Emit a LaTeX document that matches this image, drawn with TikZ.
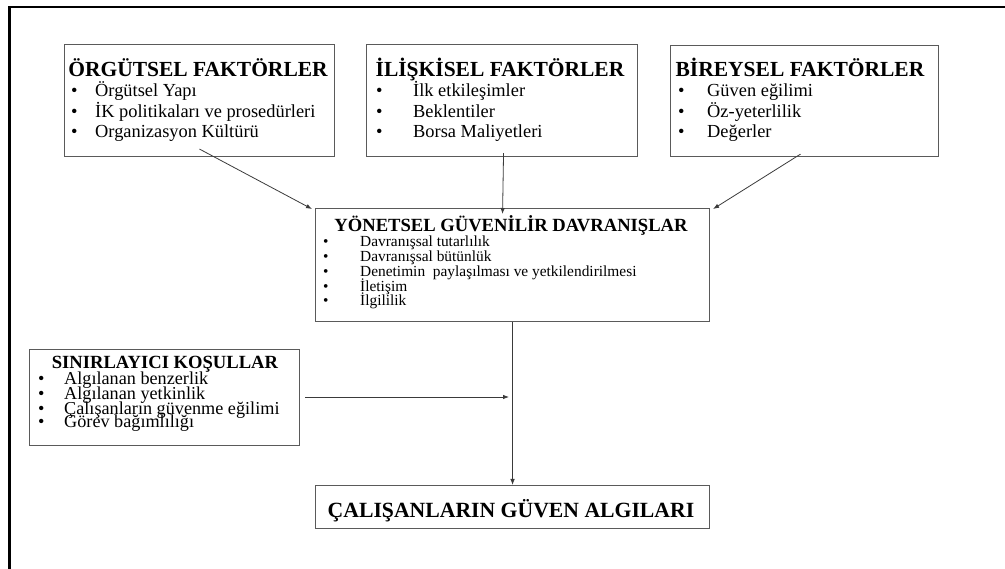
\documentclass[tikz,border=0pt]{standalone}
\usepackage{fontspec}
\setmainfont{Liberation Serif}
\usetikzlibrary{arrows.meta}
\definecolor{boxgray}{HTML}{5A5A5A}
\definecolor{arrgray}{HTML}{3A3A3A}
\begin{document}
\begin{tikzpicture}[x=1pt,y=-1pt,
  box/.style={draw=boxgray, line width=1.1pt, inner sep=0pt, anchor=north west},
  ttlA/.style={font=\bfseries\fontsize{21.5}{21.5}\selectfont, inner sep=0pt, anchor=base},
  ttlB/.style={font=\bfseries\fontsize{18.6}{18.6}\selectfont, inner sep=0pt, anchor=base},
  ttlC/.style={font=\bfseries\fontsize{21.7}{21.7}\selectfont, inner sep=0pt, anchor=base},
  itmA/.style={font=\fontsize{18.4}{18.4}\selectfont, inner sep=0pt, anchor=base west},
  itmB/.style={font=\fontsize{15.4}{15.4}\selectfont, inner sep=0pt, anchor=base west},
  itmC/.style={font=\fontsize{18.2}{18.2}\selectfont, inner sep=0pt, anchor=base west},
  conn/.style={draw=arrgray, line width=0.8pt, -{Latex[length=6pt,width=4.5pt]}}
]
\useasboundingbox (0,0) rectangle (1005,569);
% outer frame (only top and left edges visible)
\draw[line width=2.4pt, black] (9.5,575) -- (9.5,7) -- (1010,7);

% top boxes
\node[box, minimum width=270pt, minimum height=112pt] (b1) at (64,44) {};
\node[box, minimum width=271pt, minimum height=112pt] (b2) at (366,44) {};
\node[box, minimum width=268pt, minimum height=111pt] (b3) at (670,45) {};

\node[ttlA] (b1t) at (198,77) {ÖRGÜTSEL FAKTÖRLER};
\node[itmA] (b1b1) at (71,97) {•};
\node[itmA] (b1i1) at (95,97) {Örgütsel Yapı};
\node[itmA] (b1b2) at (71,117.5) {•};
\node[itmA] (b1i2) at (95,117.5) {İK politikaları ve prosedürleri};
\node[itmA] (b1b3) at (71,138) {•};
\node[itmA] (b1i3) at (95,138) {Organizasyon Kültürü};

\node[ttlA] (b2t) at (500,77) {İLİŞKİSEL FAKTÖRLER};
\node[itmA] (b2b1) at (376,97) {•};
\node[itmA] (b2i1) at (413,97) {İlk etkileşimler};
\node[itmA] (b2b2) at (376,117.5) {•};
\node[itmA] (b2i2) at (413,117.5) {Beklentiler};
\node[itmA] (b2b3) at (376,138) {•};
\node[itmA] (b2i3) at (413,138) {Borsa Maliyetleri};

\node[ttlA] (b3t) at (800,77) {BİREYSEL FAKTÖRLER};
\node[itmA] (b3b1) at (678,97) {•};
\node[itmA] (b3i1) at (707,97) {Güven eğilimi};
\node[itmA] (b3b2) at (678,117.5) {•};
\node[itmA] (b3i2) at (707,117.5) {Öz-yeterlilik};
\node[itmA] (b3b3) at (678,138) {•};
\node[itmA] (b3i3) at (707,138) {Değerler};

% middle box
\node[box, minimum width=394pt, minimum height=113pt] (yon) at (315,208) {};
\node[ttlB] (yont) at (511,232) {YÖNETSEL GÜVENİLİR DAVRANIŞLAR};
\node[itmB] (yb1) at (323,247) {•};
\node[itmB] (yi1) at (360,247) {Davranışsal tutarlılık};
\node[itmB] (yb2) at (323,262) {•};
\node[itmB] (yi2) at (360,262) {Davranışsal bütünlük};
\node[itmB] (yb3) at (323,277) {•};
\node[itmB] (yi3) at (360,277) {Denetimin\ \ paylaşılması ve yetkilendirilmesi};
\node[itmB] (yb4) at (323,292) {•};
\node[itmB] (yi4) at (360,292) {İletişim};
\node[itmB] (yb5) at (323,306) {•};
\node[itmB] (yi5) at (360,306) {İlgililik};

% left box
\node[box, minimum width=270pt, minimum height=96pt] (sin) at (29,349) {};
\node[ttlB] (sint) at (165,369) {SINIRLAYICI KOŞULLAR};
\node[itmC] (sb1) at (38,385) {•};
\node[itmC] (si1) at (64,385) {Algılanan benzerlik};
\node[itmC] (sb2) at (38,400) {•};
\node[itmC] (si2) at (64,400) {Algılanan yetkinlik};
\node[itmC] (sb3) at (38,414.5) {•};
\node[itmC] (si3) at (64,414.5) {Çalışanların güvenme eğilimi};
\node[itmC] (sb4) at (38,428) {•};
\node[itmC] (si4) at (64,428) {Görev bağımlılığı};

% bottom box
\node[box, minimum width=394pt, minimum height=43pt] (cal) at (315,485) {};
\node[ttlC] (calt) at (511,517) {ÇALIŞANLARIN GÜVEN ALGILARI};

% connectors
\draw[conn] ([yshift=8pt]b1.south) -- ([shift={(-3pt,-1pt)}]yon.north west);
\draw[conn] ([shift={(1.5pt,4pt)}]b2.south) -- ([shift={(-10pt,-6pt)}]yon.north);
\draw[conn] ([shift={(-4pt,3pt)}]b3.south) -- ([shift={(3pt,-1pt)}]yon.north east);
\draw[conn] (yon.south) -- (cal.north);
\coordinate (mj) at (512,397);
\draw[conn] ([xshift=5pt]sin.east |- mj) -- ([xshift=-3pt]mj);
\end{tikzpicture}
\end{document}
